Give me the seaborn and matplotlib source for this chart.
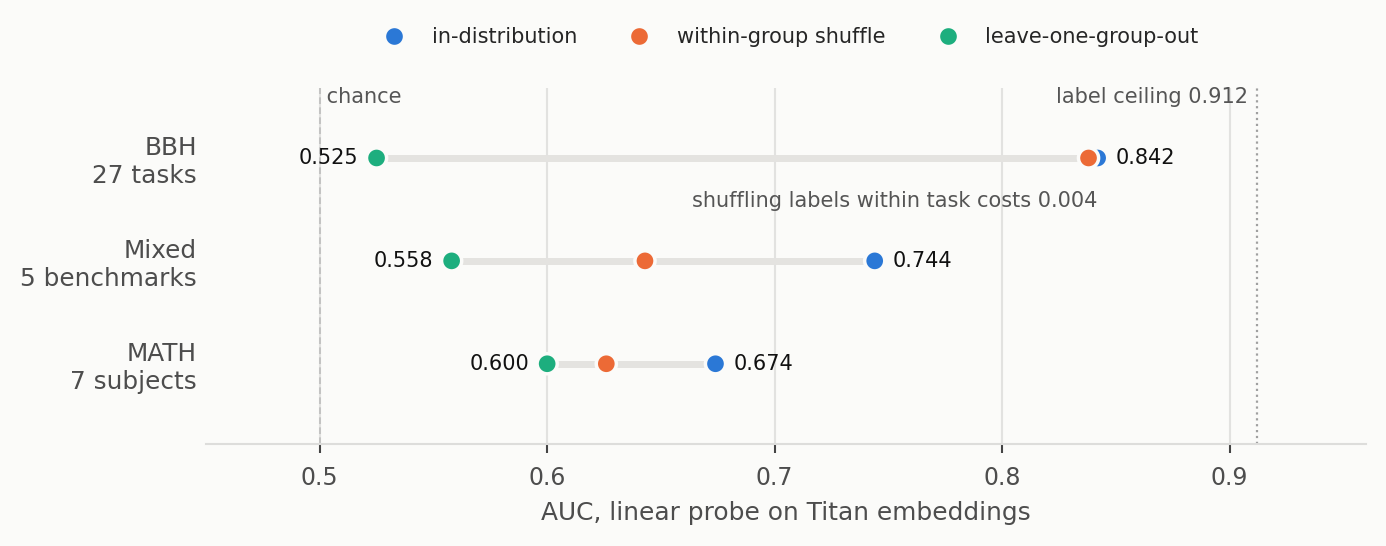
import numpy as np
import pandas as pd
import matplotlib
matplotlib.use('Agg')
import matplotlib.pyplot as plt
import matplotlib.transforms as mtransforms
import seaborn as sns

# 資料
groups = ['BBH\n27 tasks', 'Mixed\n5 benchmarks', 'MATH\n7 subjects']
conditions = ['in-distribution', 'within-group shuffle', 'leave-one-group-out']
in_dist = [0.842, 0.744, 0.674]
shuffle = [0.838, 0.643, 0.626]
logo = [0.525, 0.558, 0.600]
colors = ['#2B78D6', '#EC6A36', '#1DAE7E']
chance = 0.5
ceiling = 0.912
shuffle_cost = 0.004
xticks = [0.5, 0.6, 0.7, 0.8, 0.9]

bg = '#FBFBF9'
sns.set_theme(style='whitegrid')
plt.rcParams['font.family'] = ['DejaVu Sans']

df = pd.DataFrame({
    'group': groups * 3,
    'ypos': list(range(len(groups))) * 3,
    'condition': np.repeat(conditions, len(groups)),
    'auc': in_dist + shuffle + logo,
})

fig = plt.figure(figsize=(13.86, 5.46), dpi=100, facecolor=bg)
ax = fig.add_axes([0.1486, 0.1868, 0.8370, 0.652])
ax.set_facecolor(bg)

# 連接線
for i in range(len(groups)):
    vals = [in_dist[i], shuffle[i], logo[i]]
    ax.plot([min(vals), max(vals)], [i, i], color='#E4E3E0', lw=5,
            solid_capstyle='butt', zorder=1)

sns.scatterplot(data=df, x='auc', y='ypos', hue='condition', hue_order=conditions,
                palette=colors, s=210, edgecolor=bg, linewidth=2.5, zorder=3, ax=ax)

# 數值標籤
for i in range(len(groups)):
    ax.annotate(f'{logo[i]:.3f}', (logo[i], i), xytext=(-13, 0), textcoords='offset points',
                ha='right', va='center', fontsize=15, color='#111111')
    ax.annotate(f'{in_dist[i]:.3f}', (in_dist[i], i), xytext=(13, 0), textcoords='offset points',
                ha='left', va='center', fontsize=15, color='#111111')

# 參考線
ax.axvline(chance, color='#BDBDBD', lw=1.2, ls=(0, (4, 2)), zorder=2)
ax.axvline(ceiling, color='#A0A0A0', lw=1.6, ls=':', zorder=2)
trans = mtransforms.blended_transform_factory(ax.transData, ax.transAxes)
ax.text(chance, 0.975, ' chance', transform=trans, ha='left', va='center',
        fontsize=15, color='#555555')
ax.text(ceiling - 0.004, 0.975, f'label ceiling {ceiling}', transform=trans,
        ha='right', va='center', fontsize=15, color='#555555')
ax.text(in_dist[0], 0.42, f'shuffling labels within task costs {shuffle_cost:.3f}',
        ha='right', va='center', fontsize=15, color='#555555')

ax.set_xlim(0.45, 0.96)
ax.set_ylim(2.78, -0.68)
ax.set_xticks(xticks)
ax.set_xticklabels([f'{t:g}' for t in xticks])
ax.set_yticks(range(len(groups)))
ax.set_yticklabels(groups)
ax.tick_params(axis='x', labelsize=17, colors='#4D4D4D', length=6.5, width=1.5,
               color='#444444', pad=9, bottom=True)
ax.tick_params(axis='y', labelsize=17.8, colors='#4D4D4D', length=0, pad=6.5)
ax.set_xlabel('AUC, linear probe on Titan embeddings', fontsize=17.9, color='#4D4D4D', labelpad=8)
ax.set_ylabel('')
ax.grid(axis='y', visible=False)
ax.grid(axis='x', color='#E2E2E0', lw=1.5)
for side in ['top', 'right', 'left']:
    ax.spines[side].set_visible(False)
ax.spines['bottom'].set_color('#DDDDDB')
ax.spines['bottom'].set_linewidth(1.5)

sns.move_legend(ax, 'center', bbox_to_anchor=(0.5, 1.143), ncol=3, frameon=False,
                title=None, fontsize=15, markerscale=1.0)

fig.savefig('out.png', dpi=100, facecolor=bg)
